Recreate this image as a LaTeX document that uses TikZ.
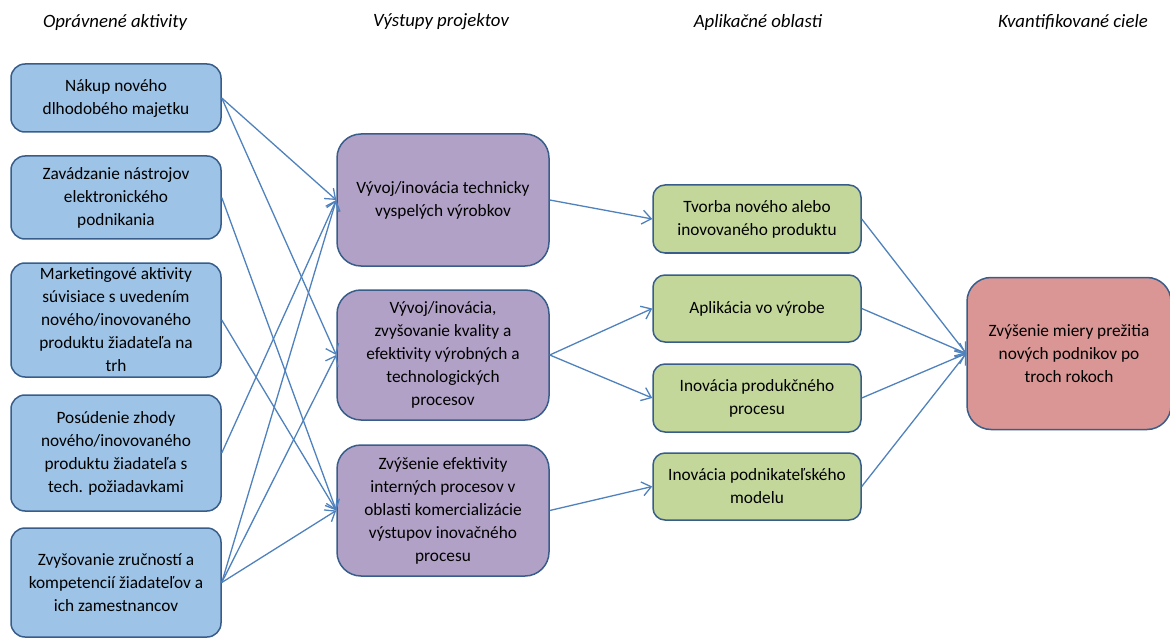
\documentclass[tikz,border=0pt]{standalone}
\usepackage{fontspec}
\setmainfont{Carlito}
\usetikzlibrary{arrows.meta}

\definecolor{actblue}{RGB}{157,195,230}
\definecolor{outpurple}{RGB}{177,161,199}
\definecolor{appgreen}{RGB}{196,215,155}
\definecolor{goalred}{RGB}{218,150,148}
\definecolor{boxline}{RGB}{56,93,138}
\definecolor{linkblue}{RGB}{79,129,189}

\tikzset{
  box/.style={draw=boxline, line width=1.5pt, align=center, inner sep=0pt,
    font=\fontsize{17.3}{23}\selectfont},
  actbox/.style={box, fill=actblue, rounded corners=14pt, minimum width=210pt},
  outbox/.style={box, fill=outpurple, rounded corners=24pt, minimum width=212pt},
  appbox/.style={box, fill=appgreen, rounded corners=12pt, minimum width=208pt},
  goalbox/.style={box, fill=goalred, rounded corners=24pt, minimum width=204pt},
  head/.style={font=\fontsize{18.8}{22}\selectfont\itshape},
  link/.style={draw=linkblue, line width=1.3pt, -{Straight Barb[length=9pt,width=14pt]}}
}

\begin{document}
\begin{tikzpicture}[x=1pt, y=-1pt]
  \useasboundingbox (0,0) rectangle (1170,639);

  % column headers
  \node[head] (h1) at (115,22) {Oprávnené aktivity};
  \node[head] (h2) at (441,22) {Výstupy projektov};
  \node[head] (h3) at (758,22) {Aplikačné oblasti};
  \node[head] (h4) at (1073,22) {Kvantifikované ciele};

  % activities
  \node[actbox, minimum height=68pt] (nakup) at (116,98) {Nákup nového\\dlhodobého majetku};
  \node[actbox, minimum height=83pt] (zavadz) at (116,197.5) {Zavádzanie nástrojov\\elektronického\\podnikania};
  \node[actbox, minimum height=114pt] (market) at (116,320) {Marketingové aktivity\\súvisiace s uvedením\\nového/inovovaného\\produktu žiadateľa na\\trh};
  \node[actbox, minimum height=116pt] (posud) at (116,453) {Posúdenie zhody\\nového/inovovaného\\produktu žiadateľa s\\tech. požiadavkami};
  \node[actbox, minimum height=109pt] (zrucn) at (116,582.5) {Zvyšovanie zručností a\\kompetencií žiadateľov a\\ich zamestnancov};

  % outputs
  \node[outbox, minimum height=132pt] (vyrob) at (443,200) {Vývoj/inovácia technicky\\vyspelých výrobkov};
  \node[outbox, minimum height=130pt] (proces) at (443,355) {Vývoj/inovácia,\\zvyšovanie kvality a\\efektivity výrobných a\\technologických\\procesov};
  \node[outbox, minimum height=131pt] (intern) at (443,510.5) {Zvýšenie efektivity\\interných procesov v\\oblasti komercializácie\\výstupov inovačného\\procesu};

  % application areas
  \node[appbox, minimum height=68pt] (tvorba) at (757,219) {Tvorba nového alebo\\inovovaného produktu};
  \node[appbox, minimum height=67pt] (aplik) at (757,308.5) {Aplikácia vo výrobe};
  \node[appbox, minimum height=68pt] (produk) at (757,398) {Inovácia produkčného\\procesu};
  \node[appbox, minimum height=67pt] (model) at (757,486.5) {Inovácia podnikateľského\\modelu};

  % target
  \node[goalbox, minimum height=152pt] (ciel) at (1069,353.5) {Zvýšenie miery prežitia\\nových podnikov po\\troch rokoch};

  % links
  \draw[link] (nakup.east) -- (vyrob.west);
  \draw[link] (nakup.east) -- (proces.west);
  \draw[link] (zavadz.east) -- (intern.west);
  \draw[link] (market.east) -- (intern.west);
  \draw[link] (posud.east) -- (vyrob.west);
  \draw[link] (zrucn.east) -- (vyrob.west);
  \draw[link] (zrucn.east) -- (proces.west);
  \draw[link] (zrucn.east) -- (intern.west);

  \draw[link] (vyrob.east) -- (tvorba.west);
  \draw[link] (proces.east) -- (aplik.west);
  \draw[link] (proces.east) -- (produk.west);
  \draw[link] (intern.east) -- (model.west);

  \draw[link] (tvorba.east) -- (ciel.west);
  \draw[link] (aplik.east) -- (ciel.west);
  \draw[link] (produk.east) -- (ciel.west);
  \draw[link] (model.east) -- (ciel.west);
\end{tikzpicture}
\end{document}
